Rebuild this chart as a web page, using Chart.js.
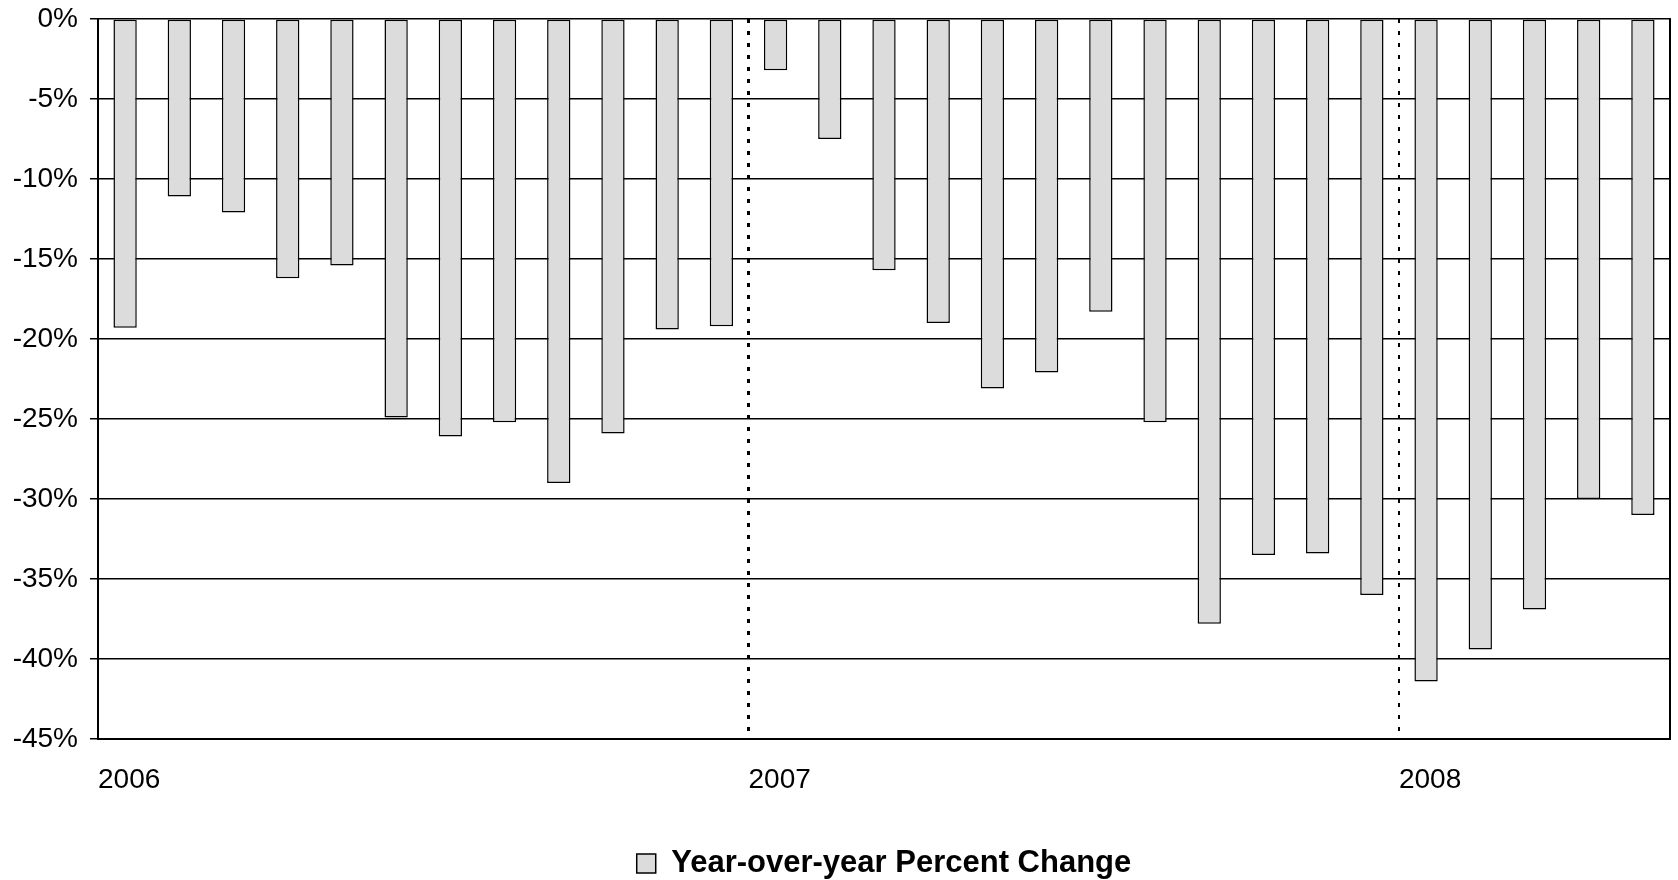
<!DOCTYPE html>
<html>
<head>
<meta charset="utf-8">
<title>Year-over-year Percent Change</title>
<script src="https://cdn.jsdelivr.net/npm/chart.js@4.4.1/dist/chart.umd.min.js"></script>
<style>
  body { margin: 0; background: #ffffff; }
  #wrap { width: 1678px; height: 880px; }
</style>
</head>
<body>
<div id="wrap">
  <canvas id="yoyChart" width="1678" height="880"></canvas>
</div>
<script>
// monthly categories, Jan 2006 - May 2008
var months = [
  "2006-01", "2006-02", "2006-03", "2006-04", "2006-05", "2006-06",
  "2006-07", "2006-08", "2006-09", "2006-10", "2006-11", "2006-12",
  "2007-01", "2007-02", "2007-03", "2007-04", "2007-05", "2007-06",
  "2007-07", "2007-08", "2007-09", "2007-10", "2007-11", "2007-12",
  "2008-01", "2008-02", "2008-03", "2008-04", "2008-05"
];

var yoyChange = [
  -19.3, -11.1, -12.1, -16.2, -15.4, -24.9, -26.1, -25.2, -29.0, -25.9, -19.4, -19.2,
  -3.2, -7.5, -15.7, -19.0, -23.1, -22.1, -18.3, -25.2, -37.8, -33.5, -33.4, -36.0,
  -41.4, -39.4, -36.9, -30.0, -31.0
];

var yearLabels = ["2006", "2007", "2008"];
var monthsPerYear = 12;

var yTicks = { min: -45, max: 0, step: 5 };

var fontFamily = "'Liberation Sans', Arial, Helvetica, sans-serif";

let ctx = document.getElementById("yoyChart").getContext("2d");
let yoyChart = new Chart(ctx, {
  type: "bar",
  data: {
    labels: months,
    datasets: [
      {
        label: "Year-over-year Percent Change",
        data: yoyChange,
        backgroundColor: "#dcdcdc",
        borderColor: "#000000",
        borderWidth: 1.5,
        borderSkipped: false,
        barPercentage: 0.43,
        categoryPercentage: 1.0,
        xAxisID: "x",
        yAxisID: "y",
      },
    ],
  },
  options: {
    responsive: false,
    animation: false,
    layout: {
      padding: { top: 19, right: 0, bottom: -9, left: 0 },
    },
    plugins: {
      tooltip: { enabled: false },
      legend: {
        display: true,
        position: "bottom",
        fullSize: false,
        labels: {
          color: "#000000",
          font: { family: fontFamily, size: 31, weight: "bold" },
          boxWidth: 19,
          boxHeight: 19,
          padding: 0,
        },
      },
    },
    scales: {
      x: {
        type: "category",
        display: false,
        offset: true,
      },
      // year boundaries: labels + dotted separators
      years: {
        type: "linear",
        axis: "x",
        position: "bottom",
        offset: false,
        min: 0,
        max: months.length,
        afterBuildTicks: function (scale) {
          scale.ticks = yearLabels.map(function (lbl, i) {
            return { value: i * monthsPerYear };
          });
        },
        afterFit: function (scale) {
          scale.height = 109;
        },
        ticks: {
          color: "#000000",
          font: { family: fontFamily, size: 28 },
          align: "start",
          padding: 24,
          maxRotation: 0,
          autoSkip: false,
          callback: function (value) {
            return yearLabels[Math.round(value / monthsPerYear)];
          },
        },
        grid: {
          offset: false,
          drawOnChartArea: true,
          drawTicks: false,
          lineWidth: function (c) {
            return c.index === 1 ? 3 : 2;
          },
          color: function (c) {
            return c.tick && c.tick.value === 0 ? "rgba(0,0,0,0)" : "#000000";
          },
        },
        border: {
          display: true,
          color: "#000000",
          width: 2,
          dash: [4, 8],
        },
      },
      y: {
        type: "linear",
        position: "left",
        min: yTicks.min,
        max: yTicks.max,
        afterFit: function (scale) {
          scale.width = 98;
          scale.paddingTop = 0;
          scale.paddingBottom = 0;
        },
        ticks: {
          stepSize: yTicks.step,
          color: "#000000",
          font: { family: fontFamily, size: 28 },
          padding: 12,
          callback: function (value) {
            return value + "%";
          },
        },
        grid: {
          color: "#000000",
          lineWidth: 1.5,
          tickLength: 8,
        },
        border: {
          display: true,
          color: "#000000",
          width: 2,
        },
      },
      frame: {
        type: "linear",
        axis: "y",
        position: "right",
        min: yTicks.min,
        max: yTicks.max,
        afterFit: function (scale) {
          scale.width = 8;
          scale.paddingTop = 0;
          scale.paddingBottom = 0;
        },
        ticks: { display: false },
        grid: { display: false },
        border: {
          display: true,
          color: "#000000",
          width: 2,
        },
      },
    },
  },
});
</script>
</body>
</html>
